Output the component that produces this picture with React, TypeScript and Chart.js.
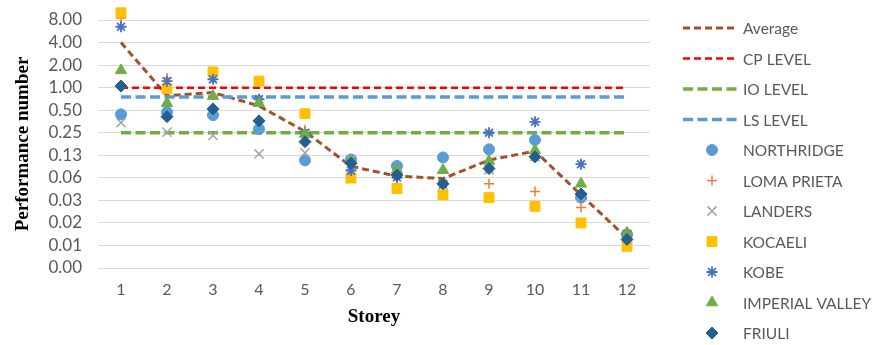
import React, { useEffect, useRef } from 'react';
import { Chart, registerables } from 'chart.js';
import { drawPoint } from 'chart.js/helpers';

Chart.register(...registerables);

const storeys = ['1', '2', '3', '4', '5', '6', '7', '8', '9', '10', '11', '12'];
const yTickValues = [0.00390625, 0.0078125, 0.015625, 0.03125, 0.0625, 0.125, 0.25, 0.5, 1, 2, 4, 8];

const average = [4.0, 0.78, 0.86, 0.57, 0.26, 0.089, 0.066, 0.061, 0.108, 0.142, 0.037, 0.0098];
const cpLevel = [1, 1, 1, 1, 1, 1, 1, 1, 1, 1, 1, 1];
const ioLevel = [0.25, 0.25, 0.25, 0.25, 0.25, 0.25, 0.25, 0.25, 0.25, 0.25, 0.25, 0.25];
const lsLevel = [0.75, 0.75, 0.75, 0.75, 0.75, 0.75, 0.75, 0.75, 0.75, 0.75, 0.75, 0.75];

const northridge = [0.44, 0.47, 0.43, 0.28, 0.107, 0.11, 0.09, 0.117, 0.15, 0.2, 0.034, 0.011];
const lomaPrieta = [8.5, 1.35, 1.3, 0.7, 0.275, 0.08, 0.065, 0.055, 0.052, 0.041, 0.025, 0.011];
const landers = [0.34, 0.255, 0.23, 0.13, 0.135, 0.11, 0.07, 0.05, 0.08, 0.12, 0.035, 0.011];
const kocaeli = [10.0, 0.97, 1.62, 1.22, 0.45, 0.062, 0.045, 0.037, 0.034, 0.026, 0.0156, 0.0076];
const kobe = [6.5, 1.22, 1.29, 0.7, 0.25, 0.078, 0.063, 0.052, 0.25, 0.35, 0.095, 0.011];
const imperialValley = [1.7, 0.62, 0.77, 0.62, 0.24, 0.105, 0.08, 0.079, 0.105, 0.145, 0.052, 0.0115];
const friuli = [1.05, 0.41, 0.52, 0.36, 0.19, 0.098, 0.068, 0.052, 0.083, 0.119, 0.038, 0.0094];

const TEXT_COLOR = '#595959';
const SANS = 'Lato, "Open Sans", sans-serif';

const sideLegend = {
  id: 'sideLegend',
  afterDraw(chart: any) {
    const { ctx, chartArea } = chart;
    const x0 = chartArea.right + 33;
    const lineW = 55;
    const textX = x0 + 60;
    ctx.save();
    chart.data.datasets.forEach((ds: any, i: number) => {
      const yy = 28 + i * 30.5;
      if (ds.showLine === false) {
        ctx.save();
        ctx.fillStyle = ds.pointBackgroundColor;
        ctx.strokeStyle = ds.pointBorderColor;
        ctx.lineWidth = ds.pointBorderWidth;
        ctx.setLineDash([]);
        drawPoint(ctx, { pointStyle: ds.pointStyle, radius: ds.pointRadius, borderWidth: ds.pointBorderWidth, rotation: 0 } as any, x0 + 29, yy);
        ctx.restore();
      } else {
        ctx.save();
        ctx.strokeStyle = ds.borderColor;
        ctx.lineWidth = ds.borderWidth;
        ctx.setLineDash(ds.borderDash || []);
        ctx.beginPath();
        ctx.moveTo(x0, yy);
        ctx.lineTo(x0 + lineW, yy);
        ctx.stroke();
        ctx.restore();
      }
      ctx.font = '15.5px ' + SANS;
      ctx.fillStyle = TEXT_COLOR;
      ctx.textBaseline = 'middle';
      ctx.textAlign = 'left';
      ctx.fillText(ds.label, textX, yy + 1);
    });
    ctx.restore();
  },
};

export default function App() {
  const ref = useRef<HTMLCanvasElement>(null);

  useEffect(() => {
    const canvas = ref.current;
    if (!canvas) return;

    const lineDs = (label: string, data: number[], color: string, width: number, dash: number[], order: number) => ({
      type: 'line',
      label,
      data,
      borderColor: color,
      backgroundColor: color,
      borderWidth: width,
      borderDash: dash,
      pointRadius: 0,
      pointHoverRadius: 0,
      fill: false,
      tension: 0,
      clip: false,
      order,
    });
    const markerDs = (label: string, data: number[], color: string, style: string, radius: number, bw: number, order: number) => ({
      type: 'line',
      label,
      data,
      showLine: false,
      pointStyle: style,
      pointRadius: radius,
      pointHoverRadius: radius,
      pointBackgroundColor: color,
      pointBorderColor: color,
      pointBorderWidth: bw,
      borderColor: color,
      backgroundColor: color,
      clip: false,
      order,
    });

    const chart = new Chart(canvas, {
      type: 'line',
      data: {
        labels: storeys,
        datasets: [
          lineDs('Average', average, '#A0522D', 3, [7, 4], 11),
          lineDs('CP LEVEL', cpLevel, '#FF0000', 2.5, [7, 4], 10),
          lineDs('IO LEVEL', ioLevel, '#70AD47', 3.5, [10, 4.5], 9),
          lineDs('LS LEVEL', lsLevel, '#5B9BD5', 3.5, [10, 4.5], 8),
          markerDs('NORTHRIDGE', northridge, '#5B9BD5', 'circle', 5.5, 1, 7),
          markerDs('LOMA PRIETA', lomaPrieta, '#ED7D31', 'cross', 5, 1.5, 6),
          markerDs('LANDERS', landers, '#A5A5A5', 'crossRot', 6.5, 1.5, 5),
          markerDs('KOCAELI', kocaeli, '#FFC000', 'rect', 7, 1, 4),
          markerDs('KOBE', kobe, '#4472C4', 'star', 5.5, 1.8, 3),
          markerDs('IMPERIAL VALLEY', imperialValley, '#70AD47', 'triangle', 6.5, 1, 2),
          markerDs('FRIULI', friuli, '#255E91', 'rectRot', 6, 1, 1),
        ] as any,
      },
      options: {
        responsive: false,
        animation: false,
        events: [],
        layout: { padding: { top: 20, right: 227, bottom: 0, left: 0 } },
        plugins: {
          legend: { display: false },
          tooltip: { enabled: false },
        },
        scales: {
          x: {
            type: 'category',
            offset: true,
            grid: { display: false, drawTicks: false },
            border: { display: false },
            ticks: { color: TEXT_COLOR, font: { family: SANS, size: 16 }, padding: 12, maxRotation: 0 },
            title: {
              display: true,
              text: 'Storey',
              color: '#000000',
              font: { family: '"Liberation Serif", "Times New Roman", serif', size: 19, weight: 'bold' },
              padding: { top: 0, bottom: 17 },
            },
            afterFit: (scale: any) => {
              scale.height = 77;
            },
          },
          y: {
            type: 'logarithmic',
            min: yTickValues[0],
            max: yTickValues[yTickValues.length - 1],
            grid: { color: '#D9D9D9', lineWidth: 1, drawTicks: false },
            border: { display: false },
            ticks: {
              color: TEXT_COLOR,
              font: { family: SANS, size: 17 },
              padding: 16,
              autoSkip: false,
              callback: (v: any) => Number(v).toFixed(2),
            },
            afterBuildTicks: (scale: any) => {
              scale.ticks = yTickValues.map((v) => ({ value: v }));
            },
            title: {
              display: true,
              text: 'Performance number',
              color: '#000000',
              font: { family: '"Liberation Serif", "Times New Roman", serif', size: 19, weight: 'bold' },
              padding: { top: 12, bottom: 0 },
            },
            afterFit: (scale: any) => {
              scale.width = 98;
              scale.paddingTop = 0;
              scale.paddingBottom = 0;
            },
          },
        },
      } as any,
      plugins: [sideLegend],
    });

    return () => chart.destroy();
  }, []);

  return (
    <div style={{ position: 'fixed', left: 0, top: 0, width: 877, height: 345, background: '#ffffff' }}>
      <canvas ref={ref} width={877} height={345} style={{ display: 'block' }} />
    </div>
  );
}
